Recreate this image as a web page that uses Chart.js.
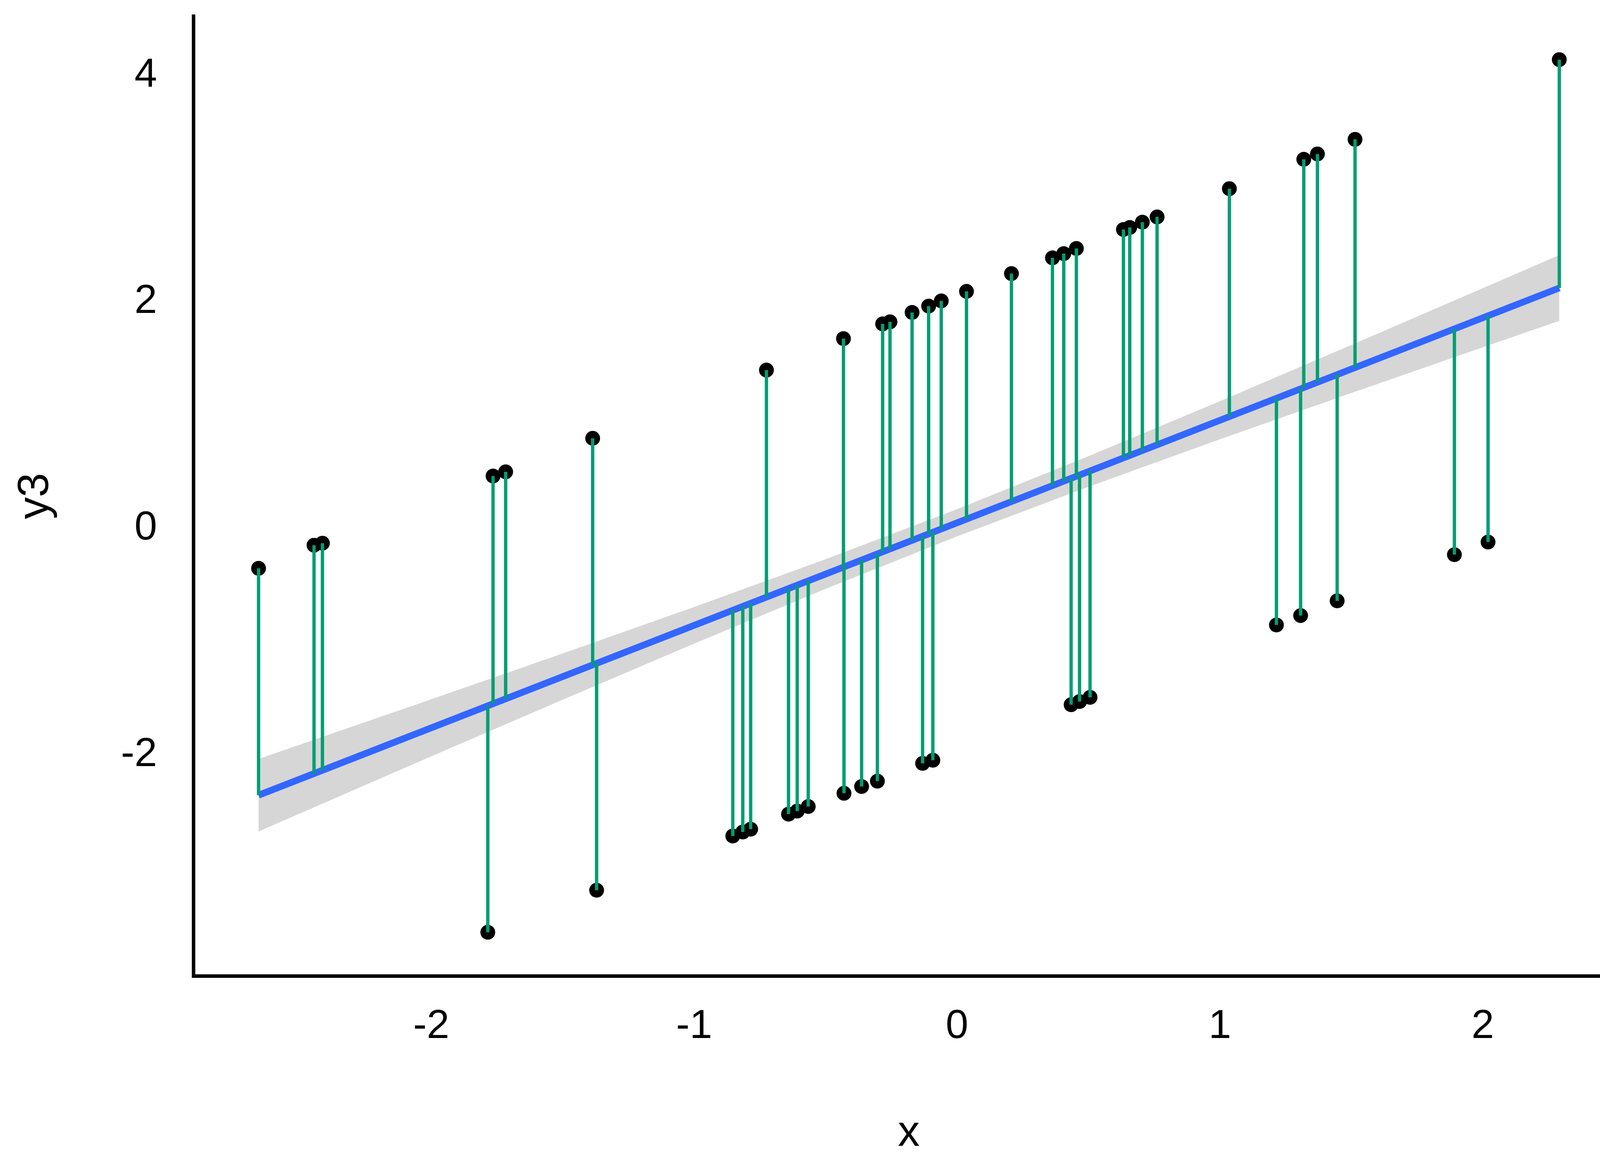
<!DOCTYPE html>
<html>
<head>
<meta charset="utf-8">
<title>y3 vs x with residuals</title>
<script src="https://cdn.jsdelivr.net/npm/chart.js@4.4.1/dist/chart.umd.min.js"></script>
<style>
  html, body { margin: 0; padding: 0; background: #fff; overflow: hidden; }
  canvas { display: block; }
</style>
</head>
<body>
<canvas id="residChart" width="4200" height="3000" style="width:4200px;height:3000px"></canvas>
<script>
// observed points (x, y3)
const xs = [-2.657, -2.446, -2.414, -1.785, -1.765, -1.717, -1.386, -1.371, -0.853, -0.815,
  -0.785, -0.725, -0.641, -0.608, -0.566, -0.432, -0.430, -0.363, -0.303, -0.283,
  -0.255, -0.171, -0.131, -0.108, -0.092, -0.060, 0.036, 0.207, 0.363, 0.406,
  0.434, 0.454, 0.466, 0.506, 0.633, 0.657, 0.705, 0.761, 1.036, 1.215,
  1.307, 1.319, 1.371, 1.446, 1.514, 1.892, 2.020, 2.291];
const ys = [-0.352, -0.148, -0.130, -3.565, 0.463, 0.500, 0.796, -3.194, -2.715, -2.680,
  -2.655, 1.398, -2.522, -2.495, -2.455, 1.676, -2.338, -2.278, -2.231, 1.806,
  1.824, 1.907, -2.074, 1.963, -2.046, 2.009, 2.093, 2.250, 2.389, 2.426,
  -1.556, 2.472, -1.528, -1.491, 2.639, 2.657, 2.704, 2.750, 3.000, -0.852,
  -0.769, 3.259, 3.306, -0.639, 3.435, -0.231, -0.120, 4.139];
// where each residual segment meets the fitted line
const fitted = [-2.355, -2.164, -2.135, -1.565, -1.547, -1.504, -1.204, -1.191, -0.722, -0.688,
  -0.660, -0.606, -0.530, -0.500, -0.462, -0.341, -0.339, -0.279, -0.224, -0.206,
  -0.181, -0.105, -0.069, -0.048, -0.033, -0.004, 0.083, 0.237, 0.379, 0.417,
  0.443, 0.461, 0.472, 0.508, 0.623, 0.645, 0.688, 0.739, 0.988, 1.150,
  1.233, 1.244, 1.291, 1.359, 1.420, 1.762, 1.878, 2.123];

// fitted line ends and confidence band
const fitX = [-2.657, 2.291];
const fitY = [-2.355, 2.123];
const bandX = [-2.657, -2, -1.5, -1, -0.5, 0, 0.5, 1, 1.5, 2, 2.291];
const bandUpper = [-2.035, -1.508, -1.104, -0.693, -0.272, 0.170, 0.638, 1.123, 1.620, 2.121, 2.413];
const bandLower = [-2.675, -2.012, -1.512, -1.017, -0.533, -0.070, 0.368, 0.787, 1.196, 1.599, 1.833];

const xTicks = [-2, -1, 0, 1, 2];
const yTicks = [-2, 0, 2, 4];

const FONT = "'Liberation Sans', Arial, Helvetica, sans-serif";
Chart.defaults.font.family = FONT;
Chart.defaults.color = '#000';

// residual segments: point -> fitted value, broken by nulls
const segData = [];
xs.forEach((x, i) => {
  segData.push({ x: x, y: ys[i] }, { x: x, y: fitted[i] }, { x: x, y: null });
});

// pin the scale boxes so the plot panel lands where the reference has it
function noPad(s) {
  s.paddingTop = 0; s.paddingBottom = 0; s.paddingLeft = 0; s.paddingRight = 0;
}

new Chart(document.getElementById('residChart'), {
  type: 'scatter',
  data: {
    datasets: [
      { type: 'line', label: 'residual', data: segData, order: 0,
        borderColor: '#009E73', borderWidth: 8.5, borderCapStyle: 'butt',
        pointRadius: 0, spanGaps: false, fill: false, tension: 0 },
      { label: 'y3', data: xs.map((x, i) => ({ x: x, y: ys[i] })), order: 1,
        backgroundColor: '#000', borderWidth: 0, pointRadius: 19, pointHoverRadius: 19 },
      { type: 'line', label: 'fit', data: fitX.map((x, i) => ({ x: x, y: fitY[i] })), order: 2,
        borderColor: '#3366FF', borderWidth: 17, borderCapStyle: 'butt',
        pointRadius: 0, fill: false, tension: 0 },
      { type: 'line', label: 'upper', data: bandX.map((x, i) => ({ x: x, y: bandUpper[i] })), order: 3,
        borderColor: 'transparent', borderWidth: 1, pointRadius: 0,
        backgroundColor: 'rgba(153,153,153,0.4)', fill: '+1', tension: 0 },
      { type: 'line', label: 'lower', data: bandX.map((x, i) => ({ x: x, y: bandLower[i] })), order: 4,
        borderColor: 'transparent', borderWidth: 1, pointRadius: 0, fill: false, tension: 0 }
    ]
  },
  options: {
    responsive: false,
    devicePixelRatio: 1,
    animation: false,
    events: [],
    layout: { padding: { top: 41, right: 42, left: 0, bottom: 0 } },
    plugins: { legend: { display: false }, tooltip: { enabled: false } },
    scales: {
      x: {
        type: 'linear', position: 'bottom', min: -2.905, max: 2.538,
        afterBuildTicks: s => { s.ticks = xTicks.map(v => ({ value: v })); },
        afterFit: s => { s.height = 502; noPad(s); },
        grid: { display: false, drawTicks: false },
        border: { display: true, color: '#000', width: 9 },
        ticks: { padding: 68, font: { size: 104 }, color: '#000', maxRotation: 0, callback: v => String(v) },
        title: { display: true, text: 'x', font: { size: 112 }, color: '#000', padding: { top: 0, bottom: 31 } }
      },
      y: {
        type: 'linear', position: 'left', min: -3.95, max: 4.524,
        afterBuildTicks: s => { s.ticks = yTicks.map(v => ({ value: v })); },
        afterFit: s => { s.width = 495; noPad(s); },
        grid: { display: false, drawTicks: false },
        border: { display: true, color: '#000', width: 9 },
        ticks: { padding: 93, font: { size: 104 }, color: '#000', callback: v => String(v) },
        title: { display: true, text: 'y3', font: { size: 112 }, color: '#000', padding: { top: 25, bottom: 0 } }
      }
    }
  }
});
</script>
</body>
</html>
